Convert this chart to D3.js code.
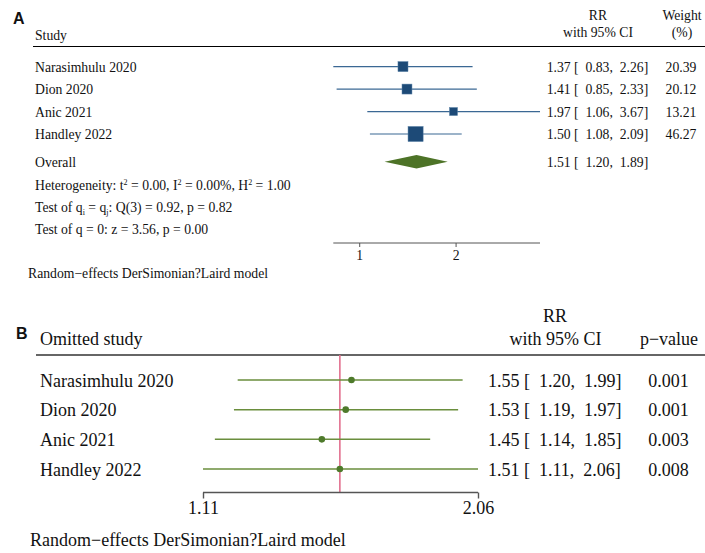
<!DOCTYPE html>
<html>
<head>
<meta charset="utf-8">
<script src="https://cdn.jsdelivr.net/npm/d3@7"></script>
<style>
  body { margin: 0; background: #fff; }
  text { font-family: "Liberation Serif", "Times New Roman", serif; fill: #111; }
  .lbl { font-family: "Liberation Sans", Arial, sans-serif; font-weight: bold; }
</style>
</head>
<body>
<svg id="chart"></svg>
<script>
// panel A - study level estimates
const studies = ['Narasimhulu 2020', 'Dion 2020', 'Anic 2021', 'Handley 2022'];
const rr = [1.37, 1.41, 1.97, 1.50];
const lo = [0.83, 0.85, 1.06, 1.08];
const hi = [2.26, 2.33, 3.67, 2.09];
const weight = [20.39, 20.12, 13.21, 46.27];
const overall = [1.51, 1.20, 1.89]; // rr, lo, hi
const ticksA = [1, 2];

// panel B - leave one out
const omitRR = [1.55, 1.53, 1.45, 1.51];
const omitLo = [1.20, 1.19, 1.14, 1.11];
const omitHi = [1.99, 1.97, 1.85, 2.06];
const omitP = ['0.001', '0.001', '0.003', '0.008'];
const ticksB = [1.11, 2.06];

const width = 705, height = 553;
const f2 = d3.format('.2f');
const ciText = (r, l, h) => `${f2(r)} [  ${f2(l)},  ${f2(h)}]`;

const svg = d3.select('#chart').attr('width', width).attr('height', height);

// ---------- A ----------
const gA = svg.append('g').style('font-size', '13.7px');
const xA = d3.scaleLog().domain([0.83, 3.67]).range([333.3, 540]);
const yA = d3.scalePoint().domain(studies).range([66.6, 134]);
const side = d3.scaleSqrt().domain([0, d3.max(weight)]).range([0, 15.1]);

gA.append('text').attr('class', 'lbl').attr('x', 13).attr('y', 23.5).style('font-size', '16px').text('A');
gA.append('text').attr('x', 35).attr('y', 40).text('Study');
gA.append('text').attr('x', 598).attr('y', 20).attr('text-anchor', 'middle').text('RR');
gA.append('text').attr('x', 598).attr('y', 37).attr('text-anchor', 'middle').text('with 95% CI');
gA.append('text').attr('x', 682).attr('y', 20).attr('text-anchor', 'middle').text('Weight');
gA.append('text').attr('x', 682).attr('y', 37).attr('text-anchor', 'middle').text('(%)');
gA.append('line').attr('x1', 33).attr('x2', width).attr('y1', 46.5).attr('y2', 46.5)
  .attr('stroke', '#000').attr('stroke-width', 1.2);

const rowA = gA.selectAll('.rowA').data(studies).enter().append('g')
  .attr('transform', d => `translate(0, ${yA(d)})`);
rowA.append('text').attr('x', 35).attr('y', 5).text(d => d);
rowA.append('line')
  .attr('x1', (d, i) => xA(lo[i])).attr('x2', (d, i) => xA(hi[i]))
  .attr('stroke', '#3b6894').attr('stroke-width', 1.2);
rowA.append('rect')
  .attr('x', (d, i) => xA(rr[i]) - side(weight[i]) / 2)
  .attr('y', (d, i) => -side(weight[i]) / 2)
  .attr('width', (d, i) => side(weight[i])).attr('height', (d, i) => side(weight[i]))
  .attr('fill', '#1d4a77').attr('stroke', '#5d83a8').attr('stroke-width', 0.5);
rowA.append('text').attr('x', 546.7).attr('y', 5).style('white-space', 'pre')
  .text((d, i) => ciText(rr[i], lo[i], hi[i]));
rowA.append('text').attr('x', 681).attr('y', 5).attr('text-anchor', 'middle')
  .text((d, i) => f2(weight[i]));

// overall diamond
const yO = 161.8;
gA.append('text').attr('x', 35).attr('y', 167).text('Overall');
gA.append('path')
  .attr('d', `M${xA(overall[1])},${yO} L${xA(overall[0])},${yO - 6.8} L${xA(overall[2])},${yO} L${xA(overall[0])},${yO + 6.8}Z`)
  .attr('fill', '#4d7327');
gA.append('text').attr('x', 546.7).attr('y', 167).style('white-space', 'pre')
  .text(ciText(overall[0], overall[1], overall[2]));

// heterogeneity lines
const het = gA.append('text').attr('x', 35).attr('y', 190);
het.append('tspan').text('Heterogeneity: t');
het.append('tspan').attr('dy', -5).style('font-size', '8px').text('2');
het.append('tspan').attr('dy', 5).text(' = 0.00, I');
het.append('tspan').attr('dy', -5).style('font-size', '8px').text('2');
het.append('tspan').attr('dy', 5).text(' = 0.00%, H');
het.append('tspan').attr('dy', -5).style('font-size', '8px').text('2');
het.append('tspan').attr('dy', 5).text(' = 1.00');

const tq = gA.append('text').attr('x', 35).attr('y', 212);
tq.append('tspan').text('Test of q');
tq.append('tspan').attr('dy', 3).style('font-size', '8px').text('i');
tq.append('tspan').attr('dy', -3).text(' = q');
tq.append('tspan').attr('dy', 3).style('font-size', '8px').text('j');
tq.append('tspan').attr('dy', -3).text(': Q(3) = 0.92, p = 0.82');

gA.append('text').attr('x', 35).attr('y', 234).text('Test of q = 0: z = 3.56, p = 0.00');

// axis A
const axA = gA.append('g').attr('transform', 'translate(0, 243)')
  .call(d3.axisBottom(xA).tickValues(ticksA).tickFormat(d3.format('d')).tickSize(4).tickPadding(3));
axA.select('.domain').attr('d', `M${xA.range()[0]},0H${xA.range()[1]}`).attr('stroke', '#555');
axA.selectAll('.tick line').attr('stroke', '#555');
axA.selectAll('.tick text').attr('font-family', null).style('font-size', '13.7px').attr('fill', '#111');

gA.append('text').attr('x', 28).attr('y', 278).text('Random\u2212effects DerSimonian?Laird model');

// ---------- B ----------
const gB = svg.append('g').style('font-size', '18px');
const xB = d3.scaleLog().domain(ticksB).range([203, 478]);
const yB = d3.scalePoint().domain(studies).range([380, 469]);

gB.append('text').attr('class', 'lbl').attr('x', 16).attr('y', 338.5).style('font-size', '16px').text('B');
gB.append('text').attr('x', 40).attr('y', 345).text('Omitted study');
gB.append('text').attr('x', 555).attr('y', 322).attr('text-anchor', 'middle').text('RR');
gB.append('text').attr('x', 555.5).attr('y', 345).attr('text-anchor', 'middle').text('with 95% CI');
gB.append('text').attr('x', 669).attr('y', 345).attr('text-anchor', 'middle').text('p\u2212value');
gB.append('line').attr('x1', 36).attr('x2', width).attr('y1', 355).attr('y2', 355)
  .attr('stroke', '#333').attr('stroke-width', 1.6);

// overall reference line
gB.append('line').attr('x1', xB(overall[0])).attr('x2', xB(overall[0]))
  .attr('y1', 355).attr('y2', 492)
  .attr('stroke', '#e2708f').attr('stroke-width', 1.6);

const rowB = gB.selectAll('.rowB').data(studies).enter().append('g')
  .attr('transform', d => `translate(0, ${yB(d)})`);
rowB.append('text').attr('x', 40).attr('y', 6.5).text(d => d);
rowB.append('line')
  .attr('x1', (d, i) => xB(omitLo[i])).attr('x2', (d, i) => xB(omitHi[i]))
  .attr('stroke', '#6a8e3d').attr('stroke-width', 1.5);
rowB.append('circle').attr('cx', (d, i) => xB(omitRR[i])).attr('r', 3.3).attr('fill', '#4e7a2b');
rowB.append('text').attr('x', 488).attr('y', 6.5).style('white-space', 'pre')
  .text((d, i) => ciText(omitRR[i], omitLo[i], omitHi[i]));
rowB.append('text').attr('x', 668.5).attr('y', 6.5).attr('text-anchor', 'middle')
  .text((d, i) => omitP[i]);

// axis B
const axB = gB.append('g').attr('transform', 'translate(0, 492.5)')
  .call(d3.axisBottom(xB).tickValues(ticksB).tickFormat(d3.format('.2f')).tickSize(6).tickPadding(3));
axB.select('.domain').attr('d', `M${xB.range()[0]},0H${xB.range()[1]}`).attr('stroke', '#555').attr('stroke-width', 1.4);
axB.selectAll('.tick line').attr('stroke', '#555').attr('stroke-width', 1.4);
axB.selectAll('.tick text').attr('font-family', null).style('font-size', '18px').attr('fill', '#111');

gB.append('text').attr('x', 30).attr('y', 546).text('Random\u2212effects DerSimonian?Laird model');
</script>
</body>
</html>
